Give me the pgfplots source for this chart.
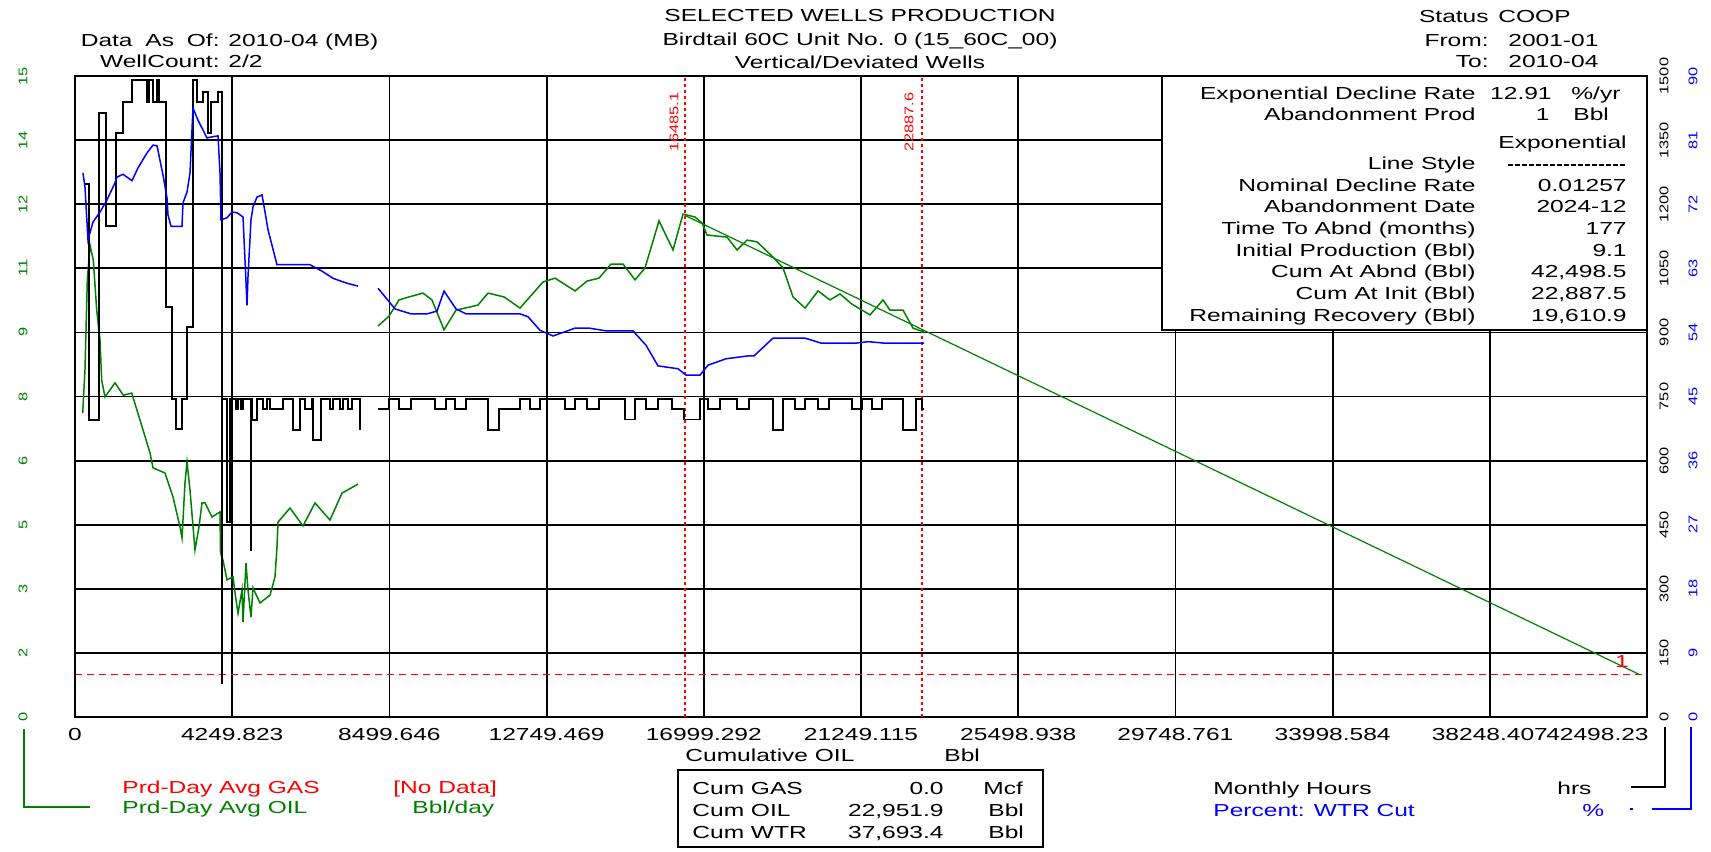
\documentclass[border=0pt]{standalone}
\usepackage{pgfplots}
\pgfplotsset{compat=1.18}
\usepackage{fontspec}
\setmainfont{Liberation Sans}[FakeStretch=1.41]
\newfontfamily\tickfont{Liberation Sans}[FakeStretch=1.3]
\newcommand\mf{\fontsize{8.7pt}{10pt}\selectfont}
\newcommand\tf{\tickfont\fontsize{6.3pt}{7pt}\selectfont}
\definecolor{wgreen}{RGB}{0,128,0}
\definecolor{wblue}{RGB}{0,0,255}
\definecolor{wred}{RGB}{255,0,0}
\begin{document}
\begin{tikzpicture}
\path[use as bounding box] (0,0) rectangle (855.5pt,-425.5pt);
\pgfplotsset{wbase/.style={
  at={(37.5pt,-358.5pt)}, anchor=south west, scale only axis,
  width=786pt, height=320.5pt, xmin=0, xmax=42498.23, clip=false,
  scaled x ticks=false, scaled y ticks=false,
  major tick length=0pt, axis line style={black, line width=1.1pt},
}}
% ---------------- oil (left axis) ----------------
\begin{axis}[wbase, ymin=0, ymax=15,
  xtick={0,4249.823,8499.646,12749.469,16999.292,21249.115,25498.938,29748.761,33998.584,38248.407,42498.23},
  xticklabels={0,4249.823,8499.646,12749.469,16999.292,21249.115,25498.938,29748.761,33998.584,38248.407,{}},
  ytick={0,1.5,3,4.5,6,7.5,9,10.5,12,13.5,15},
  yticklabels={0,2,3,5,6,8,9,11,12,14,15},
  xmajorgrids, ymajorgrids, major grid style={black, line width=0.9pt},
  xticklabel style={font=\mf, yshift=-2pt},
  yticklabel style={font=\tf, text=wgreen, xshift=-26pt, rotate=90, anchor=center},
]
\addplot[wred, line width=0.9pt, dash pattern=on 1.5pt off 1.5pt] coordinates {(16485.1,0) (16485.1,15)};
\addplot[wred, line width=0.9pt, dash pattern=on 1.5pt off 1.5pt] coordinates {(22887.6,0) (22887.6,15)};
\addplot[wred, line width=0.7pt, dash pattern=on 3.5pt off 2.5pt] coordinates {(0,1) (42498.23,1)};
\addplot[wgreen, line width=0.75pt] coordinates {
(208,7.11)(270,8.12)(333,10.23)(406,11.04)(495,10.69)(587,9.52)(676,8.82)(722,7.88)(811,7.49)(1081,7.82)(1306,7.53)(1533,7.58)(1757,6.95)(2028,6.18)(2109,5.83)(2433,5.71)(2649,5.15)(2839,4.45)(2893,4.19)(2974,5.48)(3028,5.97)(3109,5.31)(3244,3.91)(3352,4.45)(3433,5.01)(3515,5.01)(3704,4.68)(3920,4.80)(3934,3.84)(4001,3.67)(4109,3.21)(4272,3.28)(4326,2.90)(4407,2.43)(4515,2.97)(4542,2.22)(4623,3.60)(4677,2.97)(4758,2.34)(4812,3.02)(5001,2.67)(5272,2.85)(5407,3.28)(5461,3.98)(5488,4.56)(5813,4.89)(6164,4.47)(6488,5.01)(6894,4.61)(7218,5.24)(7651,5.45)};
\addplot[wgreen, line width=0.75pt] coordinates {
(8192,9.15)(8489,9.38)(8759,9.76)(9030,9.83)(9408,9.92)(9651,9.76)(9976,9.06)(10300,9.52)(10895,9.64)(11165,9.92)(11598,9.83)(12031,9.57)(12652,10.18)(12977,10.27)(13518,9.97)(13842,10.20)(14166,10.27)(14491,10.60)(14815,10.60)(15140,10.23)(15410,10.51)(15788,11.61)(16167,10.93)(16437,11.77)(16762,11.70)(16951,11.56)(17086,11.28)(17302,11.26)(17627,11.23)(17897,10.93)(18168,11.16)(18438,11.12)(18870,10.76)(19141,10.51)(19411,9.83)(19736,9.57)(20087,9.97)(20411,9.76)(20682,9.90)(21006,9.66)(21493,9.41)(21844,9.76)(22034,9.52)(22385,9.52)(22655,9.10)(22952,9.01)};
\addplot[wgreen, line width=0.6pt] coordinates {(16485.1,11.74) (42280,1.0)};
\node[anchor=north east, font=\mf, inner ysep=0.3333em, inner xsep=0pt, yshift=-2pt, xshift=1pt] at (axis cs:42498.23,0) {42498.23};
\node[text=wred, font=\mf] at (axis cs:41823,1.29) {1};
\end{axis}
% ---------------- monthly hours (right axis 1) ----------------
\begin{axis}[wbase, ymin=0, ymax=1500, hide x axis, yticklabel pos=right,
  ytick={0,150,300,450,600,750,900,1050,1200,1350,1500},
  yticklabels={0,150,300,450,600,750,900,1050,1200,1350,1500},
  yticklabel style={font=\tf, xshift=8.5pt, rotate=90, anchor=center}]
\addplot[const plot, black, line width=0.9pt] coordinates {
(270,1247)(378,695)(649,1413)(838,1149)(1108,1367)(1298,1439)(1541,1490)(1947,1439)(2001,1490)(2109,1439)(2217,1490)(2271,1439)(2460,959)(2622,744)(2731,674)(2893,744)(3028,913)(3190,1490)(3298,1439)(3460,1462)(3596,1367)(3677,1439)(3866,1462)(3974,80)(3988,744)(4101,456)(4190,744)(4353,720)(4407,744)(4488,720)(4542,744)(4758,390)(4772,744)(4785,695)(4920,744)(5083,720)(5191,744)(5272,720)(5623,744)(5894,672)(6083,744)(6218,720)(6407,744)(6434,648)(6651,744)(6894,720)(6975,744)(7164,720)(7245,744)(7381,720)(7489,744)(7705,672)};
\addplot[const plot, black, line width=0.9pt] coordinates {
(8192,720)(8489,744)(8759,720)(9084,744)(9733,720)(10030,744)(10273,720)(10571,744)(11165,672)(11463,720)(12031,744)(12301,720)(12571,744)(13247,720)(13518,744)(13842,720)(14166,744)(14869,696)(15140,744)(15437,720)(15761,744)(16140,720)(16464,696)(16897,744)(17113,720)(17438,744)(17897,720)(18222,744)(18870,672)(19141,744)(19465,720)(19736,744)(20087,720)(20384,744)(21006,720)(21277,744)(21547,720)(21817,744)(22385,672)(22736,744)(22899,720)(22952,720)};
\end{axis}
% ---------------- water cut (right axis 2) ----------------
\begin{axis}[wbase, ymin=0, ymax=90, hide x axis, yticklabel pos=right,
  ytick={0,9,18,27,36,45,54,63,72,81,90},
  yticklabels={0,9,18,27,36,45,54,63,72,81,90},
  yticklabel style={font=\tf, text=wblue, xshift=23pt, rotate=90, anchor=center}]
\addplot[wblue, line width=0.75pt] coordinates {
(216,76.4)(270,74.4)(351,67.0)(487,69.5)(676,70.9)(865,72.6)(1081,75.0)(1135,75.8)(1298,76.2)(1541,75.3)(1703,77.1)(1947,79.2)(2109,80.3)(2217,80.2)(2379,76.1)(2487,72.9)(2514,70.5)(2595,68.9)(2893,68.9)(2920,72.2)(3028,73.7)(3109,76.4)(3190,85.5)(3325,83.8)(3569,81.3)(3650,81.4)(3866,81.6)(3920,76.4)(3947,69.8)(4109,70.1)(4245,70.9)(4380,70.8)(4542,70.2)(4596,64.2)(4650,57.8)(4677,61.8)(4758,69.8)(4812,71.6)(4920,73.0)(5056,73.3)(5137,70.9)(5218,68.4)(5461,63.5)(5894,63.5)(6353,63.5)(6678,62.6)(6975,61.6)(7353,60.9)(7651,60.5)};
\addplot[wblue, line width=0.75pt] coordinates {
(8192,60.2)(8651,57.3)(9084,56.6)(9516,56.6)(9787,57.0)(9976,59.8)(10300,57.3)(10571,56.6)(12031,56.6)(12247,56.2)(12571,54.3)(12923,53.5)(13518,54.6)(13896,54.6)(14383,54.2)(15086,54.2)(15437,52.2)(15761,49.3)(16302,48.9)(16518,48.0)(16897,48.0)(17113,49.4)(17600,50.3)(18195,50.7)(18357,50.7)(18870,53.2)(19736,53.2)(20168,52.5)(20709,52.5)(21114,52.5)(21439,52.7)(21871,52.5)(22952,52.5)};
\end{axis}
% ---------------- annotations (1 unit = 1 reference pixel) ----------------
\begin{scope}[x=0.5pt, y=-0.5pt, every node/.style={inner sep=0pt, font=\mf}]
\draw[line width=1.1pt, fill=white] (1162,76) rectangle (1647,330);
\node[anchor=base east] at (1476,99) {Exponential Decline Rate};
\node[anchor=base east] at (1552,99) {12.91};
\node[anchor=base west] at (1571,99) {\%/yr};
\node[anchor=base east] at (1476,120) {Abandonment Prod};
\node[anchor=base east] at (1550,120) {1};
\node[anchor=base west] at (1573,120) {Bbl};
\node[anchor=base east] at (1627,148) {Exponential};
\node[anchor=base east] at (1476,169) {Line Style};
\draw[line width=0.6pt, dash pattern=on 2.5pt off 1pt] (1508,165) -- (1627,165);
\node[anchor=base east] at (1476,191) {Nominal Decline Rate};
\node[anchor=base east] at (1627,191) {0.01257};
\node[anchor=base east] at (1476,212.5) {Abandonment Date};
\node[anchor=base east] at (1627,212.5) {2024-12};
\node[anchor=base east] at (1476,234) {Time To Abnd (months)};
\node[anchor=base east] at (1627,234) {177};
\node[anchor=base east] at (1476,256) {Initial Production (Bbl)};
\node[anchor=base east] at (1627,256) {9.1};
\node[anchor=base east] at (1476,277.5) {Cum At Abnd (Bbl)};
\node[anchor=base east] at (1627,277.5) {42,498.5};
\node[anchor=base east] at (1476,299) {Cum At Init (Bbl)};
\node[anchor=base east] at (1627,299) {22,887.5};
\node[anchor=base east] at (1476,321) {Remaining Recovery (Bbl)};
\node[anchor=base east] at (1627,321) {19,610.9};
% header
\node[anchor=base east] at (220,46) {Data\hspace{3pt} As\hspace{3pt} Of:};
\node[anchor=base west] at (228,46) {2010-04 (MB)};
\node[anchor=base east] at (220,67) {WellCount:};
\node[anchor=base west] at (228,67) {2/2};
\node[anchor=base] at (860,21) {SELECTED WELLS PRODUCTION};
\node[anchor=base] at (860,45) {Birdtail 60C Unit No. 0 (15\_60C\_00)};
\node[anchor=base] at (860,68) {Vertical/Deviated Wells};
\node[anchor=base east] at (1489,22) {Status};
\node[anchor=base west] at (1498,22) {COOP};
\node[anchor=base east] at (1489,46) {From:};
\node[anchor=base west] at (1508,46) {2001-01};
\node[anchor=base east] at (1489,67) {To:};
\node[anchor=base west] at (1508,67) {2010-04};
% red cum markers
\node[anchor=south east, rotate=90, font=\tf, text=wred] at (679,92) {16485.1};
\node[anchor=south east, rotate=90, font=\tf, text=wred] at (914,92) {22887.6};
% x label
\node[anchor=base west] at (685,761) {Cumulative OIL};
\node[anchor=base west] at (944,761) {Bbl};
% left legend
\draw[wgreen, line width=0.8pt] (24,729) -- (24,807) -- (90,807);
\node[anchor=base west, text=wred] at (122,793) {Prd-Day Avg GAS};
\node[anchor=base west, text=wred] at (393,793) {[No Data]};
\node[anchor=base west, text=wgreen] at (122,813) {Prd-Day Avg OIL};
\node[anchor=base west, text=wgreen] at (412,813) {Bbl/day};
% cum box
\draw[line width=1pt] (678,770) rectangle (1043,847);
\node[anchor=base west] at (692,794) {Cum GAS};
\node[anchor=base east] at (944,794) {0.0};
\node[anchor=base west] at (983,794) {Mcf};
\node[anchor=base west] at (692,816) {Cum OIL};
\node[anchor=base east] at (944,816) {22,951.9};
\node[anchor=base west] at (988,816) {Bbl};
\node[anchor=base west] at (692,838) {Cum WTR};
\node[anchor=base east] at (944,838) {37,693.4};
\node[anchor=base west] at (988,838) {Bbl};
% right legend
\node[anchor=base west] at (1213,794) {Monthly Hours};
\node[anchor=base west] at (1557,794) {hrs};
\node[anchor=base west, text=wblue] at (1213,816) {Percent: WTR Cut};
\node[anchor=base west, text=wblue] at (1582,816) {\%};
\draw[line width=0.9pt] (1665,727) -- (1665,787) -- (1631,787);
\draw[wblue, line width=0.9pt] (1691,727) -- (1691,809) -- (1652,809);
\fill[wblue] (1630,808) rectangle (1633,810);
\end{scope}
\end{tikzpicture}
\end{document}
